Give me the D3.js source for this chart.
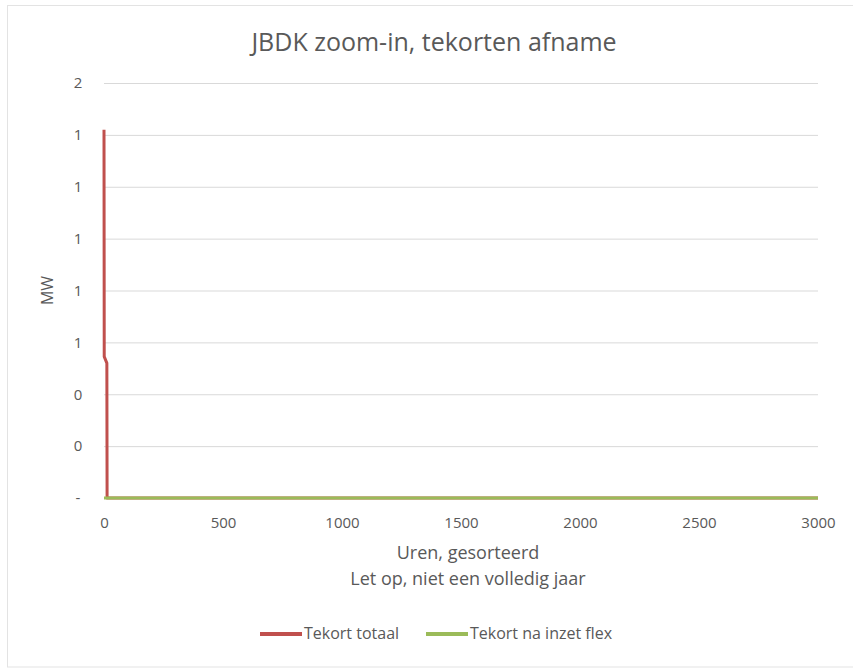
<!DOCTYPE html>
<html>
<head>
<meta charset="utf-8">
<script src="https://cdn.jsdelivr.net/npm/d3@7/dist/d3.min.js"></script>
<style>
  html, body { margin: 0; padding: 0; background: #fff; }
  svg { display: block; }
  text { font-family: "Open Sans", "Liberation Sans", sans-serif; fill: #595959; }
</style>
</head>
<body>
<svg id="chart" width="853" height="668"></svg>
<script>
// ---- data ----
const chartTitle = "JBDK zoom-in, tekorten afname";
const yAxisTitle = "MW";
const xAxisTitle = ["Uren, gesorteerd", "Let op, niet een volledig jaar"];
const seriesNames = ["Tekort totaal", "Tekort na inzet flex"];
const seriesColors = ["#c0504d", "#9bbb59"];
const yTickValues = [0, 0.2, 0.4, 0.6, 0.8, 1.0, 1.2, 1.4, 1.6];
const yTickLabels = ["-", "0", "0", "1", "1", "1", "1", "1", "2"];
const xTickValues = [0, 500, 1000, 1500, 2000, 2500, 3000];
// Tekort totaal (sorted hours)
const totaalHours = [0, 1, 12, 13, 3000];
const totaalValues = [1.42, 0.545, 0.52, 0, 0];
// Tekort na inzet flex
const flexHours = [0, 3000];
const flexValues = [0, 0];

// ---- layout ----
const svg = d3.select("#chart");
const W = 853, H = 668;
const plot = { left: 104, right: 818, top: 83, bottom: 498 };

svg.append("rect")
  .attr("x", 7.5).attr("y", 5.5)
  .attr("width", W - 7).attr("height", H - 6.5)
  .attr("fill", "#fff").attr("stroke", "#e3e3e3");

const x = d3.scaleLinear().domain([0, 3000]).range([plot.left, plot.right]);
const y = d3.scaleLinear().domain([0, 1.6]).range([plot.bottom, plot.top]);

// gridlines
svg.append("g")
  .selectAll("line")
  .data(yTickValues)
  .join("line")
  .attr("x1", plot.left).attr("x2", plot.right)
  .attr("y1", d => y(d) + 0.5).attr("y2", d => y(d) + 0.5)
  .attr("stroke", "#d9d9d9").attr("stroke-width", 1);

// y axis labels
const yAxis = d3.axisLeft(y)
  .tickValues(yTickValues)
  .tickSize(0)
  .tickPadding(0)
  .tickFormat((d, i) => yTickLabels[i]);
const gy = svg.append("g").attr("transform", `translate(${plot.left - 26},0)`).call(yAxis);
gy.select(".domain").remove();
gy.selectAll("text").attr("text-anchor", "middle").attr("dx", 0)
  .attr("fill", "#595959")
  .style("font-size", "15px").style("fill", "#595959");

// x axis labels
const xAxis = d3.axisBottom(x).tickValues(xTickValues).tickSize(0).tickPadding(0)
  .tickFormat(d3.format("d"));
const gx = svg.append("g").attr("transform", `translate(0,${plot.bottom + 19})`).call(xAxis);
gx.select(".domain").remove();
gx.selectAll("text").attr("fill", "#595959")
  .style("font-size", "15px").style("fill", "#595959");

// lines
const line = d3.line().x(d => x(d[0])).y(d => y(d[1]));
svg.append("path")
  .datum(totaalHours.map((h, i) => [h, totaalValues[i]]))
  .attr("d", line)
  .attr("fill", "none").attr("stroke", seriesColors[0]).attr("stroke-width", 3)
  .attr("stroke-linejoin", "round");
svg.append("path")
  .datum(flexHours.map((h, i) => [h, flexValues[i]]))
  .attr("d", line)
  .attr("fill", "none").attr("stroke", seriesColors[1]).attr("stroke-width", 3);

// title
svg.append("text")
  .attr("x", 434).attr("y", 51)
  .attr("text-anchor", "middle")
  .style("font-size", "25px")
  .text(chartTitle);

// y axis title
svg.append("text")
  .attr("transform", `translate(53,${(plot.top + plot.bottom) / 2}) rotate(-90)`)
  .attr("text-anchor", "middle")
  .style("font-size", "16px")
  .text(yAxisTitle);

// x axis title
xAxisTitle.forEach((t, i) => {
  svg.append("text")
    .attr("x", (plot.left + plot.right) / 2 + 7)
    .attr("y", 559 + i * 26)
    .attr("text-anchor", "middle")
    .style("font-size", "18px")
    .text(t);
});

// legend
const legendX = [260, 426];
const legend = svg.append("g");
seriesNames.forEach((name, i) => {
  legend.append("line")
    .attr("x1", legendX[i]).attr("x2", legendX[i] + 42)
    .attr("y1", 634).attr("y2", 634)
    .attr("stroke", seriesColors[i]).attr("stroke-width", 4);
  legend.append("text")
    .attr("x", legendX[i] + 44).attr("y", 639)
    .style("font-size", "16px")
    .text(name);
});
</script>
</body>
</html>
